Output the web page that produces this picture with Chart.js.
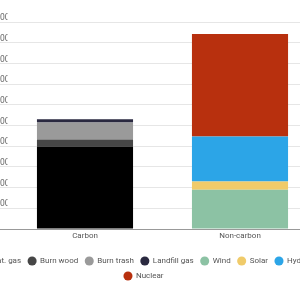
<!DOCTYPE html>
<html>
<head>
<meta charset="utf-8">
<script src="https://cdn.jsdelivr.net/npm/chart.js@4"></script>
<style>
  html, body { margin: 0; padding: 0; background: #fff; overflow: hidden; }
  #wrap { position: absolute; left: -30px; top: 0; width: 352px; height: 300px; }
</style>
</head>
<body>
<div id="wrap"><canvas id="mix-chart"></canvas></div>
<script>
const categories = ['Carbon', 'Non-carbon'];
const sources = ['Nat. gas', 'Burn wood', 'Burn trash', 'Landfill gas', 'Wind', 'Solar', 'Hydro', 'Nuclear'];
const carbonValues = [398, 34, 83, 15, 0, 0, 0, 0];
const nonCarbonValues = [0, 0, 0, 0, 190, 39, 218, 495];
const sourceColors = ['#000000', '#464646', '#9a9a9a', '#2a2940', '#8cc2a4', '#f0cb6a', '#2ca5e7', '#b8300e'];
const yTicks = [0, 100, 200, 300, 400, 500, 600, 700, 800, 900, 1000];

const fontFamily = "Roboto, 'Liberation Sans', sans-serif";

const datasets = sources.map(function(name, i) {
    return {
        label: name,
        data: [carbonValues[i], nonCarbonValues[i]],
        backgroundColor: sourceColors[i],
        borderWidth: 0,
        categoryPercentage: 1,
        barPercentage: 0.62
    };
});

new Chart(document.getElementById('mix-chart'), {
    type: 'bar',
    data: { labels: categories, datasets: datasets },
    options: {
        responsive: true,
        maintainAspectRatio: false,
        animation: false,
        layout: { padding: { top: 22, right: 4.5, bottom: 10, left: 0 } },
        scales: {
            x: {
                stacked: true,
                grid: { display: false, drawTicks: false },
                border: { display: true, color: '#999999', width: 1 },
                ticks: { color: '#555555', padding: 2, font: { family: fontFamily, size: 8 } },
                afterFit: function(scale) { scale.height = 21; }
            },
            y: {
                stacked: true,
                min: yTicks[0],
                max: yTicks[yTicks.length - 1],
                afterBuildTicks: function(scale) {
                    scale.ticks = yTicks.map(function(v) { return { value: v }; });
                },
                afterFit: function(scale) { scale.width = 37.5; },
                border: { display: false },
                grid: {
                    color: function(ctx) { return ctx.tick && ctx.tick.value === 0 ? '#999999' : '#e6e6e6'; },
                    drawTicks: true,
                    tickLength: 8
                },
                ticks: {
                    color: '#666666',
                    padding: -10,
                    labelOffset: -4,
                    font: { family: fontFamily, size: 8.5 },
                    callback: function(v) { return v === 0 ? '' : v; }
                }
            }
        },
        plugins: {
            legend: {
                position: 'bottom',
                labels: {
                    usePointStyle: true,
                    pointStyle: 'circle',
                    boxWidth: 12,
                    boxHeight: 6.4,
                    padding: 7,
                    color: '#555555',
                    font: { family: fontFamily, size: 8 }
                }
            },
            tooltip: { enabled: false }
        }
    }
});
</script>
</body>
</html>
